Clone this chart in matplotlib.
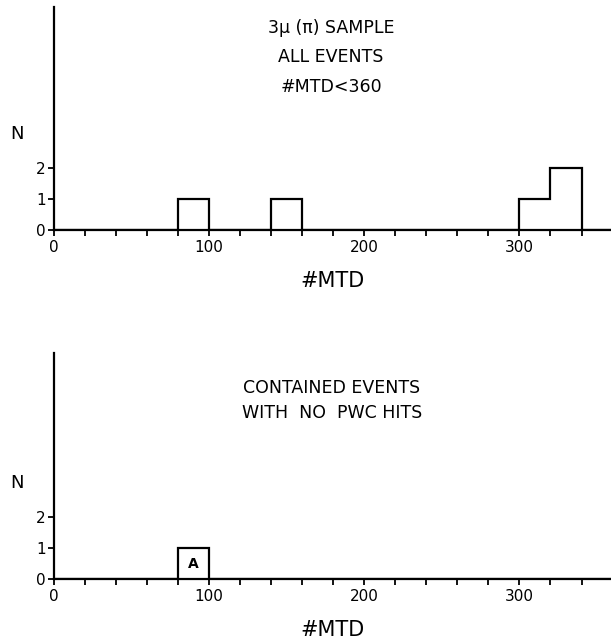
import matplotlib
matplotlib.use("Agg")
import matplotlib.pyplot as plt
import numpy as np

bin_edges = np.arange(0, 361, 20)
top_counts = [0, 0, 0, 0, 1, 0, 0, 1, 0, 0, 0, 0, 0, 0, 0, 1, 2, 0]
bottom_counts = [0, 0, 0, 0, 1, 0, 0, 0, 0, 0, 0, 0, 0, 0, 0, 0, 0, 0]
major_ticks = [0, 100, 200, 300]
y_ticks = [0, 1, 2]
top_text = ["3μ (π) SAMPLE", "ALL EVENTS", "#MTD<360"]
bottom_text = ["CONTAINED EVENTS", "WITH  NO  PWC HITS"]
bottom_label = ("A", 90, 0.5)
xlabel = "#MTD"
ylabel = "N"

plt.rcParams['font.family'] = ['DejaVu Sans']
W, H = 611, 643
fig = plt.figure(figsize=(W / 100, H / 100), dpi=100)

def px(x0, y_origin, y_top):
    return [x0 / W, (H - y_origin) / H, (W - x0) / W, (y_origin - y_top) / H]

def style(ax, ymax):
    ax.set_xlim(0, 359)
    ax.set_ylim(0, ymax)
    for s in ("top", "right"):
        ax.spines[s].set_visible(False)
    for s in ("left", "bottom"):
        ax.spines[s].set_linewidth(1.6)
    ax.set_xticks(major_ticks)
    ax.set_xticks(np.arange(0, 360, 20), minor=True)
    ax.set_yticks(y_ticks)
    ax.tick_params(axis="x", which="both", direction="out", length=4, width=1.3,
                   labelsize=11, pad=3)
    ax.tick_params(axis="y", direction="out", length=4, width=1.3, labelsize=11, pad=2)
    for lab in ax.get_xticklabels() + ax.get_yticklabels():
        lab.set_fontweight("medium")
    ax.set_facecolor("white")

ax1 = fig.add_axes(px(54, 230, 7))
style(ax1, 223 / 31)
ax1.stairs(top_counts, bin_edges, baseline=0, color="black", lw=1.6)
ax1.set_xlabel(xlabel, fontsize=15, labelpad=12)
ax1.text(-37 / 1.55, 3.1, ylabel, fontsize=13, ha="center", va="center")
for i, t in enumerate(top_text):
    fig.text(331 / W, 1 - (28 + 29.5 * i) / H, t, fontsize=12.5, ha="center", va="center")

ax2 = fig.add_axes(px(54, 579, 353))
style(ax2, 226 / 31)
ax2.stairs(bottom_counts, bin_edges, baseline=0, color="black", lw=1.6)
ax2.set_xlabel(xlabel, fontsize=15, labelpad=12)
ax2.text(-37 / 1.55, 3.1, ylabel, fontsize=13, ha="center", va="center")
ax2.text(bottom_label[1], bottom_label[2], bottom_label[0], fontsize=10,
         fontweight="bold", ha="center", va="center")
for i, t in enumerate(bottom_text):
    fig.text(332 / W, 1 - (388 + 25 * i) / H, t, fontsize=12.5, ha="center", va="center")

fig.savefig("out.png", dpi=100, facecolor="white")
